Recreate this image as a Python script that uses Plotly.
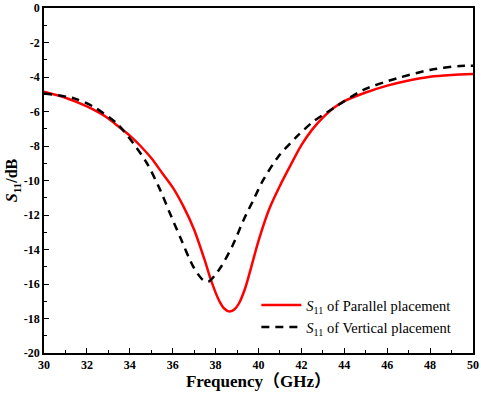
import plotly.graph_objects as go

# Parallel placement (red, solid)
freq_par = [30, 31, 32, 32.5, 33, 33.5, 34, 34.5, 35, 35.5, 36, 36.5, 37, 37.5, 37.75, 38.0,
            38.2, 38.4, 38.65, 38.9, 39.1, 39.35, 39.6, 40.0, 40.5, 41.0, 41.5, 42.0, 42.5,
            43.0, 43.5, 44, 45, 46, 47, 48, 49, 50]
s11_par = [-4.85, -5.2, -5.7, -6.02, -6.4, -6.9, -7.4, -8.0, -8.7, -9.55, -10.4, -11.5, -12.85,
           -14.65, -15.65, -16.5, -17.05, -17.42, -17.6, -17.45, -17.1, -16.35, -15.3, -13.5,
           -11.65, -10.3, -9.1, -7.95, -7.05, -6.35, -5.8, -5.4, -4.9, -4.5, -4.2, -3.98, -3.88,
           -3.83]

# Vertical placement (black, dashed)
freq_ver = [30, 31.4, 32.3, 33.4, 34.16, 34.8, 35.4, 35.87, 36.34, 36.96, 37.4, 37.66, 38.2,
            38.8, 39.3, 39.76, 40.22, 40.92, 41.78, 42.55, 43.49, 44.89, 46.44, 48, 49.4, 50]
s11_ver = [-4.95, -5.24, -5.72, -6.7, -7.84, -9.0, -10.5, -11.9, -13.26, -15.0, -15.75, -15.87,
           -15.1, -13.75, -12.3, -11.13, -9.97, -8.62, -7.46, -6.59, -5.81, -4.75, -4.08, -3.59,
           -3.36, -3.35]

x_ticks = [30, 32, 34, 36, 38, 40, 42, 44, 46, 48, 50]
y_ticks = [0, -2, -4, -6, -8, -10, -12, -14, -16, -18, -20]
y_tick_text = [str(v) for v in y_ticks]

serif = "Liberation Serif, Times New Roman, Noto Sans CJK SC, serif"

fig = go.Figure()
fig.add_trace(go.Scatter(
    x=freq_par, y=s11_par, mode="lines",
    line=dict(color="#ff0000", width=2.5, shape="spline", smoothing=0.8),
    name="<i>S</i><sub>11</sub> of Parallel placement"))
fig.add_trace(go.Scatter(
    x=freq_ver, y=s11_ver, mode="lines",
    line=dict(color="#000000", width=2.5, dash="8px,6px", shape="spline", smoothing=0.8),
    name="<i>S</i><sub>11</sub> of Vertical placement"))

axis_common = dict(
    showgrid=False, zeroline=False, showline=True, linecolor="black", linewidth=1.5, mirror=True,
    ticks="inside", ticklen=5, tickwidth=1.2, tickcolor="black", automargin=False,
    tickfont=dict(family=serif, size=12, color="black", weight="bold"),
)

fig.update_xaxes(range=[30, 50], tickvals=x_ticks,
                 minor=dict(ticks="inside", ticklen=3, tickwidth=1, tickcolor="black", dtick=1),
                 title=dict(text="<b>Frequency（GHz）</b>", font=dict(family=serif, size=17, color="black"),
                            standoff=3),
                 **axis_common)
fig.update_yaxes(range=[-20, 0], tickvals=y_ticks, ticktext=y_tick_text,
                 minor=dict(ticks="inside", ticklen=3, tickwidth=1, tickcolor="black", dtick=1),
                 title=dict(text="<b><i>S</i><sub>11</sub>/dB</b>", font=dict(family=serif, size=16, color="black"),
                            standoff=2),
                 **axis_common)

fig.update_layout(
    width=481, height=396,
    margin=dict(l=44, r=8, t=8, b=43),
    plot_bgcolor="white", paper_bgcolor="white",
    legend=dict(x=0.495, y=0.185, xanchor="left", yanchor="top", bgcolor="rgba(0,0,0,0)",
                font=dict(family=serif, size=14.5, color="black"), tracegroupgap=0, itemwidth=40),
)

fig.write_html("out.html", config={"displayModeBar": False},
               post_script="document.body.style.margin='0';document.body.style.padding='0';")
